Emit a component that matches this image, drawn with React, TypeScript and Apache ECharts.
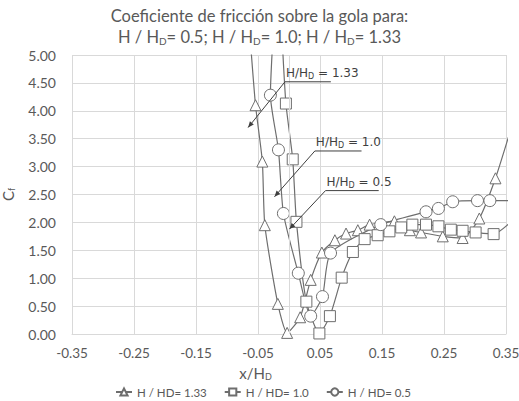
import React, { useEffect, useRef } from 'react';
import * as echarts from 'echarts';

// Series names (legend)
const seriesNames = ['H / HD= 1.33', 'H / HD= 1.0', 'H / HD= 0.5'];

// H/HD = 1.33 (triangles) [x/HD, Cf]
const triData: number[][] = [
  [-0.064, 5.5], [-0.054, 4.10], [-0.043, 3.09], [-0.039, 1.95], [-0.018, 0.54],
  [-0.003, 0.02], [0.018, 0.30], [0.035, 0.97], [0.053, 1.46], [0.074, 1.68],
  [0.092, 1.80], [0.111, 1.86], [0.130, 1.96], [0.170, 2.02], [0.195, 1.86],
  [0.213, 1.82], [0.248, 1.75], [0.280, 1.72], [0.307, 2.07], [0.333, 2.79],
  [0.360, 3.75],
];

// H/HD = 1.0 (squares)
const sqData: number[][] = [
  [-0.012, 5.5], [-0.005, 4.13], [0.006, 3.13], [0.012, 2.01], [0.028, 0.58],
  [0.049, 0.01], [0.066, 0.32], [0.085, 1.01], [0.103, 1.47], [0.122, 1.70],
  [0.143, 1.77], [0.162, 1.84], [0.181, 1.91], [0.199, 1.96], [0.221, 1.96],
  [0.241, 1.93], [0.261, 1.87], [0.280, 1.85], [0.301, 1.82], [0.330, 1.79],
  [0.360, 2.03],
];

// H/HD = 0.5 (circles)
const circData: number[][] = [
  [-0.025, 5.5], [-0.030, 4.28], [-0.017, 3.30], [-0.009, 2.16], [0.015, 1.09],
  [0.035, 0.32], [0.054, 0.67], [0.067, 1.45], [0.148, 1.96], [0.221, 2.19],
  [0.241, 2.25], [0.264, 2.37], [0.304, 2.39], [0.324, 2.39], [0.360, 2.39],
];

// Callout annotations (data coordinates): tip of arrow, start/end of underline
const calloutLabels = ['1.33', '1.0', '0.5'];
const calloutTips: number[][] = [[-0.066, 3.70], [-0.0234, 2.46], [0.0007, 1.88]];
const calloutStarts: number[][] = [[-0.0065, 4.52], [0.0417, 3.28], [0.0589, 2.57]];
const calloutEnds: number[][] = [[0.0675, 4.52], [0.117, 3.28], [0.1447, 2.57]];

const TXT = '#595959';
const GRID = '#d9d9d9';
const LINE = '#6e6e6e';
const FONT = 'Lato';

export default function App() {
  const ref = useRef<HTMLDivElement>(null);
  useEffect(() => {
    if (!ref.current) return;
    const chart = echarts.init(ref.current, undefined, { renderer: 'svg' });
    const mk = (name: string, data: number[][], symbol: string, size: number) => ({
      name,
      type: 'line',
      data,
      symbol,
      symbolSize: size,
      smooth: 0.2,
      clip: true,
      color: LINE,
      lineStyle: { color: LINE, width: 1.2 },
      itemStyle: { color: '#ffffff', borderColor: LINE, borderWidth: 1 },
    });
    const s0: any = mk(seriesNames[0], triData, 'triangle', 11);
    s0.markLine = {
      silent: true,
      symbol: 'none',
      label: { show: false },
      lineStyle: { color: GRID, type: 'solid', width: 1 },
      data: [{ xAxis: 0 }],
    };
    const sub = (size: number, drop: number) => ({
      n: { fontFamily: FONT, fontSize: size, color: TXT },
      s: { fontFamily: FONT, fontSize: Math.round(size * 0.62), color: TXT, padding: [drop, 0, 0, 0] },
    });
    const option: any = {
      animation: false,
      backgroundColor: '#ffffff',
      title: {
        text: 'Coeficiente de fricción sobre la gola para:\n{n|H / H}{s|D}{n|= 0.5; H / H}{s|D}{n|= 1.0; H / H}{s|D}{n|= 1.33}',
        left: 'center',
        top: 0,
        padding: [5, 0, 5, 28],
        textStyle: {
          fontFamily: FONT,
          fontSize: 16.5,
          fontWeight: 'normal',
          color: TXT,
          lineHeight: 21,
          rich: sub(16.5, 9),
        },
      },
      grid: { left: 72, right: 13, top: 55, bottom: 67, outerBoundsMode: 'none', containLabel: false },
      xAxis: {
        type: 'value',
        min: -0.35,
        max: 0.35,
        interval: 0.1,
        name: '{n|x/H}{s|D}',
        nameLocation: 'middle',
        nameGap: 30,
        nameTextStyle: {
          padding: [0, 67, 0, 0],
          rich: sub(15, 8),
        },
        axisLine: { show: true, onZero: false, lineStyle: { color: GRID } },
        axisTick: { show: false },
        splitLine: { show: true, lineStyle: { color: GRID } },
        axisLabel: {
          color: TXT,
          fontFamily: FONT,
          fontSize: 13.5,
          margin: 12,
          formatter: (v: number) => v.toFixed(2),
        },
      },
      yAxis: {
        type: 'value',
        min: 0,
        max: 5,
        interval: 0.5,
        name: '{n|C}{s|f}',
        nameLocation: 'middle',
        nameGap: 56,
        nameTextStyle: {
          rich: sub(15, 8),
        },
        axisLine: { show: false },
        axisTick: { show: false },
        splitLine: { show: true, lineStyle: { color: GRID } },
        axisLabel: {
          color: TXT,
          fontFamily: FONT,
          fontSize: 14,
          margin: 16,
          formatter: (v: number) => v.toFixed(2),
        },
      },
      legend: {
        data: seriesNames,
        left: 110,
        top: 381,
        itemWidth: 16,
        itemHeight: 9,
        itemGap: 17,
        textStyle: { color: TXT, fontFamily: FONT, fontSize: 11.5 },
      },
      series: [
        s0,
        mk(seriesNames[1], sqData, 'rect', 11),
        mk(seriesNames[2], circData, 'circle', 12),
      ],
    };
    chart.setOption(option);

    const graphics: any[] = [];
    const ACOL = '#3f3f3f';
    for (let i = 0; i < calloutLabels.length; i++) {
      const tip = chart.convertToPixel({ gridIndex: 0 }, calloutTips[i]) as number[];
      const st = chart.convertToPixel({ gridIndex: 0 }, calloutStarts[i]) as number[];
      const en = chart.convertToPixel({ gridIndex: 0 }, calloutEnds[i]) as number[];
      graphics.push({
        type: 'line',
        silent: true,
        shape: { x1: st[0], y1: st[1], x2: tip[0], y2: tip[1] },
        style: { stroke: ACOL, lineWidth: 1 },
        z: 100,
      });
      graphics.push({
        type: 'line',
        silent: true,
        shape: { x1: st[0], y1: st[1], x2: en[0], y2: en[1] },
        style: { stroke: ACOL, lineWidth: 1 },
        z: 100,
      });
      const dx = tip[0] - st[0];
      const dy = tip[1] - st[1];
      const len = Math.sqrt(dx * dx + dy * dy);
      const ux = dx / len;
      const uy = dy / len;
      const hl = 6;
      const hw = 2.5;
      const bx = tip[0] - ux * hl;
      const by = tip[1] - uy * hl;
      graphics.push({
        type: 'polygon',
        silent: true,
        shape: {
          points: [
            [tip[0], tip[1]],
            [bx - uy * hw, by + ux * hw],
            [bx + uy * hw, by - ux * hw],
          ],
        },
        style: { fill: ACOL },
        z: 100,
      });
      graphics.push({
        type: 'text',
        silent: true,
        x: st[0] + 1,
        y: st[1] - 1,
        z: 100,
        style: {
          text: '{a|H/H}{b|D}{a| = ' + calloutLabels[i] + '}',
          verticalAlign: 'bottom',
          align: 'left',
          rich: {
            a: { fontFamily: 'DejaVu Sans', fontSize: 12, fill: ACOL },
            b: { fontFamily: 'DejaVu Sans', fontSize: 8, fill: ACOL, padding: [7, 0, 0, 0] },
          },
        },
      });
    }
    chart.setOption({ graphic: graphics });

    return () => chart.dispose();
  }, []);
  return <div ref={ref} style={{ width: 519, height: 401, position: 'absolute', left: 0, top: 0 }} />;
}
